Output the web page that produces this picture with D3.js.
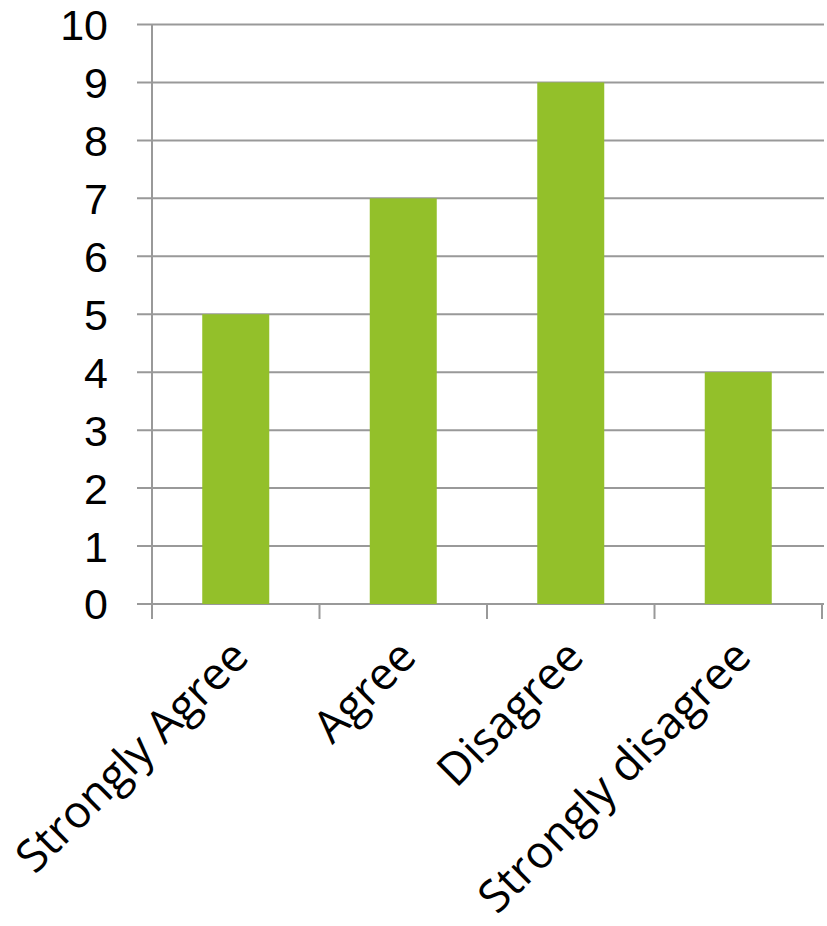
<!DOCTYPE html>
<html><head><meta charset="utf-8">
<script src="https://cdn.jsdelivr.net/npm/d3@7"></script>
<style>body{margin:0;background:#fff}</style>
</head><body>
<svg id="c" width="827" height="926"></svg>
<script>
const categories = ["Strongly Agree", "Agree", "Disagree", "Strongly disagree"];
const values = [5, 7, 9, 4];
const yTicks = [0,1,2,3,4,5,6,7,8,9,10];

const svg = d3.select("#c");
const L = 152, R = 822, T = 24.5, B = 604;
const x = d3.scaleBand().domain(categories).range([L, R]).paddingInner(0.6).paddingOuter(0.3);
const xb = d3.scaleBand().domain(categories).range([L, R]);
const y = d3.scaleLinear().domain([0, 10]).range([B, T]);
const grid = "#999999";

// gridlines
svg.append("g").selectAll("line").data(yTicks).join("line")
  .attr("x1", L - 15).attr("x2", R + 2)
  .attr("y1", d => y(d)).attr("y2", d => y(d))
  .attr("stroke", grid).attr("stroke-width", 2);

// y axis line
svg.append("line").attr("x1", L).attr("x2", L).attr("y1", T).attr("y2", B + 15)
  .attr("stroke", grid).attr("stroke-width", 2);

// x ticks
svg.append("g").selectAll("line").data(categories).join("line")
  .attr("x1", d => xb(d) + xb.bandwidth()).attr("x2", d => xb(d) + xb.bandwidth())
  .attr("y1", B).attr("y2", B + 15)
  .attr("stroke", grid).attr("stroke-width", 2);

// bars
svg.append("g").selectAll("rect").data(values).join("rect")
  .attr("x", (d, i) => x(categories[i]))
  .attr("width", x.bandwidth())
  .attr("y", d => y(d))
  .attr("height", d => B - y(d))
  .attr("fill", "#93c02a");

// y labels
svg.append("g").selectAll("text").data(yTicks).join("text")
  .attr("x", 108).attr("y", d => y(d))
  .attr("dy", "0.36em")
  .attr("text-anchor", "end")
  .attr("font-family", "Liberation Sans, Arial, sans-serif")
  .attr("font-size", 43)
  .attr("fill", "#000")
  .text(d => d);

// x labels
svg.append("g").selectAll("text").data(categories).join("text")
  .attr("transform", d => `translate(${xb(d) + xb.bandwidth()/2 + 4},${648}) rotate(-45)`)
  .attr("text-anchor", "end")
  .attr("dy", "0.35em")
  .attr("font-family", "Open Sans, sans-serif")
  .attr("font-size", 45)
  .attr("fill", "#000")
  .text(d => d);
</script>
</body></html>
